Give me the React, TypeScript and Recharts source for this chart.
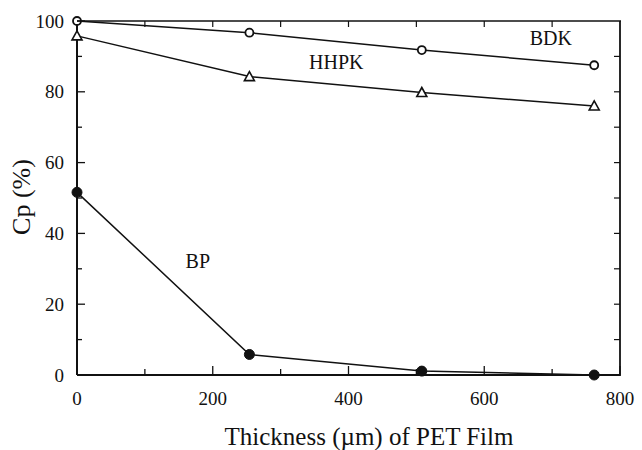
import React from "react"
import { LineChart, Line, XAxis, YAxis, ReferenceDot, Label } from "recharts"

// film thickness (µm) and Cp (%)
const thickness = [0, 254, 508, 762]
const bdk = [100, 96.7, 91.8, 87.5]
const hhpk = [95.8, 84.3, 79.8, 76.0]
const bp = [51.6, 5.8, 1.1, 0]

const xTicks = [0, 100, 200, 300, 400, 500, 600, 700, 800]
const yTicks = [0, 10, 20, 30, 40, 50, 60, 70, 80, 90, 100]
const X_MAX = 800
const Y_MAX = 100

const seriesLabels = [
  { name: "BDK", x: 698, y: 95.2 },
  { name: "HHPK", x: 382, y: 88.4 },
  { name: "BP", x: 178, y: 32.2 },
]

const data = thickness.map((t, i) => ({ t, bdk: bdk[i], hhpk: hhpk[i], bp: bp[i] }))

const W = 642
const H = 450
const FONT = "Liberation Serif"
const INK = "#111"
const txt = { fontFamily: FONT }
const MARGIN = { top: 21, right: 22, bottom: 45, left: 17 }
const Y_AXIS_W = 60
const X_AXIS_H = 30

// plot box edges, from the chart layout
const BOX = {
  left: MARGIN.left + Y_AXIS_W,
  right: W - MARGIN.right,
  top: MARGIN.top,
  bottom: H - MARGIN.bottom - X_AXIS_H,
}

const BottomTick = (props: any) => {
  const { x, y, payload } = props
  const major = payload.value % 200 === 0
  return (
    <g>
      <line x1={x} x2={x} y1={y} y2={y - (major ? 9 : 6)} stroke={INK} strokeWidth={1.3} />
      {major && (
        <text x={x} y={y + 23} textAnchor="middle" dominantBaseline="central" style={txt} fontSize={19} fill={INK}>
          {payload.value}
        </text>
      )}
    </g>
  )
}

const LeftTick = (props: any) => {
  const { x, y, payload } = props
  const major = payload.value % 20 === 0
  return (
    <g>
      <line x1={x} x2={x + (major ? 8 : 5)} y1={y} y2={y} stroke={INK} strokeWidth={1.3} />
      {major && (
        <text x={x - 13} y={y} textAnchor="end" dominantBaseline="central" style={txt} fontSize={19} fill={INK}>
          {payload.value}
        </text>
      )}
    </g>
  )
}

// top and right edges of the box with their inward ticks (drawn over the chart)
const Frame = () => {
  const { left, right, top, bottom } = BOX
  const px = (t: number) => left + (t / X_MAX) * (right - left)
  const py = (v: number) => bottom - (v / Y_MAX) * (bottom - top)
  return (
    <svg
      width={W}
      height={H}
      style={{ position: "absolute", left: 0, top: 0, pointerEvents: "none" }}
    >
      <line x1={left} x2={right + 1} y1={top} y2={top} stroke={INK} strokeWidth={1.5} />
      <line x1={right} x2={right} y1={top} y2={bottom + 1} stroke={INK} strokeWidth={1.8} />
      {xTicks.slice(1, -1).map((t) => (
        <line key={`tt-${t}`} x1={px(t)} x2={px(t)} y1={top} y2={top + 6} stroke={INK} strokeWidth={1.2} />
      ))}
      {yTicks.slice(1, -1).map((v) => (
        <line key={`rt-${v}`} x1={right} x2={right - 6} y1={py(v)} y2={py(v)} stroke={INK} strokeWidth={1.2} />
      ))}
    </svg>
  )
}

const Triangle = (props: any) => {
  const { cx, cy } = props
  if (cx == null || cy == null) return null
  return (
    <path
      d={`M${cx},${cy - 5} L${cx + 5},${cy + 4} L${cx - 5},${cy + 4} Z`}
      fill="#fff"
      stroke={INK}
      strokeWidth={1.6}
    />
  )
}

export default function App() {
  return (
    <div style={{ position: "absolute", left: 0, top: 0, width: W, height: H, background: "#fff" }}>
      <LineChart width={W} height={H} data={data} margin={MARGIN}>
        <XAxis
          dataKey="t"
          type="number"
          domain={[0, X_MAX]}
          ticks={xTicks}
          interval={0}
          height={X_AXIS_H}
          tickSize={0}
          tickMargin={0}
          tickLine={false}
          tick={<BottomTick />}
          axisLine={{ stroke: INK, strokeWidth: 2 }}
        >
          <Label
            content={() => (
              <text x={369} y={436} textAnchor="middle" dominantBaseline="central" style={txt} fontSize={25} fill={INK}>
                Thickness (µm) of PET Film
              </text>
            )}
          />
        </XAxis>
        <YAxis
          type="number"
          domain={[0, Y_MAX]}
          ticks={yTicks}
          interval={0}
          width={Y_AXIS_W}
          tickSize={0}
          tickMargin={0}
          tickLine={false}
          tick={<LeftTick />}
          axisLine={{ stroke: INK, strokeWidth: 2 }}
        >
          <Label
            content={() => (
              <text
                x={21}
                y={197}
                transform="rotate(-90 21 197)"
                textAnchor="middle"
                dominantBaseline="central"
                style={txt}
                fontSize={26}
                fill={INK}
              >
                Cp (%)
              </text>
            )}
          />
        </YAxis>

        <Line
          dataKey="bdk"
          stroke={INK}
          strokeWidth={1.5}
          dot={{ r: 4, fill: "#fff", stroke: INK, strokeWidth: 1.8 }}
          isAnimationActive={false}
        />
        <Line
          dataKey="hhpk"
          stroke={INK}
          strokeWidth={1.5}
          dot={(p: any) => <Triangle key={`tri-${p.index}`} {...p} />}
          isAnimationActive={false}
        />
        <Line
          dataKey="bp"
          stroke={INK}
          strokeWidth={1.5}
          dot={{ r: 5, fill: INK, stroke: INK, strokeWidth: 1 }}
          isAnimationActive={false}
        />
        {seriesLabels.map((s) => (
          <ReferenceDot
            key={s.name}
            x={s.x}
            y={s.y}
            r={0}
            stroke="none"
            fill="none"
            label={(p: any) => {
              const vb = p.viewBox || {}
              return (
                <text
                  x={vb.x + (vb.width || 0) / 2}
                  y={vb.y + (vb.height || 0) / 2}
                  textAnchor="middle"
                  dominantBaseline="central"
                  style={txt}
                  fontSize={20}
                  fill={INK}
                >
                  {s.name}
                </text>
              )
            }}
          />
        ))}
      </LineChart>
      <Frame />
    </div>
  )
}
